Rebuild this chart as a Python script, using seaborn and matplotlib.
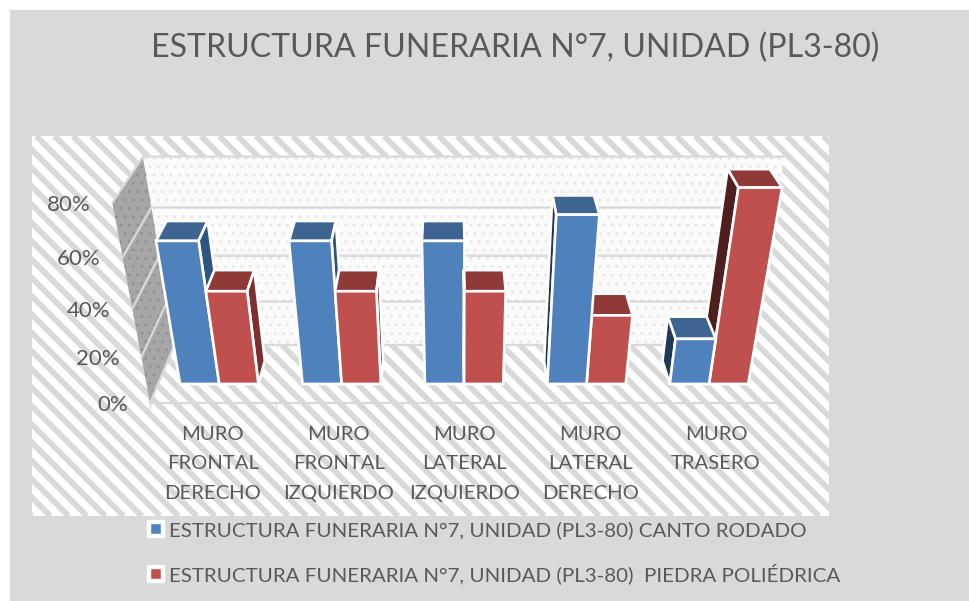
import numpy as np
import pandas as pd
import matplotlib
matplotlib.use("Agg")
import matplotlib.pyplot as plt
import matplotlib.transforms as mtransforms
from matplotlib.patches import Polygon, Rectangle
import seaborn as sns

# values
muros = ["MURO\nFRONTAL\nDERECHO", "MURO\nFRONTAL\nIZQUIERDO", "MURO\nLATERAL\nIZQUIERDO",
         "MURO\nLATERAL\nDERECHO", "MURO\nTRASERO"]
canto_rodado = [60, 60, 60, 70, 20]
piedra_poliedrica = [40, 40, 40, 30, 80]
pct_ticks = [0, 20, 40, 60, 80]
title = "ESTRUCTURA FUNERARIA N°7, UNIDAD (PL3-80)"
serie_a = "ESTRUCTURA FUNERARIA N°7, UNIDAD (PL3-80) CANTO RODADO"
serie_b = "ESTRUCTURA FUNERARIA N°7, UNIDAD (PL3-80)  PIEDRA POLIÉDRICA"

blue = "#4F81BD"
red = "#C0504D"
grey_txt = "#595959"
grid_col = "#D9D9D9"

sns.set_theme(style="white")
plt.rcParams["font.family"] = ["Lato", "DejaVu Sans"]
plt.rcParams["hatch.linewidth"] = 0.7


# 3 point perspective of the excel 3d chart: x=category, v=percent, d=depth(0 front, 1 back)
def project(x, v, d):
    x, v, d = np.asarray(x, float), np.asarray(v, float), np.asarray(d, float)
    b = -0.001354 * v
    c = 0.08855 * d
    w = 1 + b + c
    px = (150 + 125.8 * x + b * 460 + c * 450) / w
    py = (403 + b * 2050 + c * -310) / w
    return np.column_stack([np.atleast_1d(px), np.atleast_1d(py)])


class BarPlane(mtransforms.Transform):
    input_dims = 2
    output_dims = 2

    def __init__(self, d):
        super().__init__()
        self.d = d

    def transform_non_affine(self, values):
        values = np.asarray(values)
        return project(values[:, 0] + 0.5, values[:, 1], np.full(len(values), self.d))


d_front = 0.31
d_back = 0.71

fig = plt.figure(figsize=(9.69, 6.01), dpi=100, facecolor="white")
ax = fig.add_axes([0, 0, 1, 1])

df = pd.DataFrame({
    "muro": muros * 2,
    "pct": canto_rodado + piedra_poliedrica,
    "serie": [serie_a] * 5 + [serie_b] * 5,
})
sns.barplot(data=df, x="muro", y="pct", hue="serie", palette=[blue, red], width=0.64, gap=0,
            saturation=1, edgecolor="white", linewidth=1.9, ax=ax)

ax.set_xlim(0, 969)
ax.set_ylim(601, 0)
ax.set_axis_off()

# grey card + striped plot area
ax.add_patch(Rectangle((10, 10), 959, 591, fc=grid_col, ec="none", zorder=0))
panel = Rectangle((32, 136), 797, 380, fc="white", ec="none", zorder=0.1)
ax.add_patch(panel)
for off in np.arange(-380, 800, 18.3):
    line, = ax.plot([32 + off, 32 + off + 380], [136, 516], color=grid_col, lw=4.2, zorder=0.2,
                    solid_capstyle="butt")
    line.set_clip_path(panel)

# walls
ax.add_patch(Polygon(np.vstack([project(0, 0, 1), project(5, 0, 1), project(5, 80, 1), project(0, 80, 1)]),
                     fc="#FBFBFB", ec="#E4E4E4", hatch="..", lw=0, zorder=0.5))
ax.add_patch(Polygon(np.vstack([project(0, 0, 0), project(0, 0, 1), project(0, 80, 1), project(0, 80, 0)]),
                     fc="#A6A6A6", ec="#8E8E8E", hatch="..", lw=0, zorder=0.6))

for v in pct_ticks:
    ax.plot(*np.vstack([project(0, v, 0), project(0, v, 1), project(5, v, 1)]).T, color=grid_col,
            lw=1.6, zorder=0.7)
    tx, ty = project(0, v, 0)[0]
    ax.text(tx - 22, ty + 2, f"{v}%", ha="right", va="center", fontsize=16, color=grey_txt)

# floor front edge, ticks and category labels
ax.plot(*np.vstack([project(0, 0, 0), project(5, 0, 0)]).T, color=grid_col, lw=1.6, zorder=0.7)
for i in range(6):
    tx, ty = project(i, 0, 0)[0]
    ax.plot([tx, tx], [ty, ty + 5], color=grid_col, lw=1, zorder=0.7)
for i, lab in enumerate(muros):
    tx = project(i + 0.5, 0, 0)[0][0]
    ax.text(tx, 426, lab, ha="center", va="top", fontsize=14.6, color=grey_txt, linespacing=1.88)

ax.text(515, 48, title, ha="center", va="center", fontsize=23.1, color=grey_txt)

# faces of each bar, front face is the seaborn bar itself
shade_top = ["#3E6491", "#8F3A38"]
shade_right = ["#2E5480", "#7D2F2D"]
shade_left = ["#1F3A57", "#4F1F1D"]
for s, cont in enumerate(ax.containers):
    for i, bar in enumerate(cont.patches):
        x0, x1 = bar.get_x() + 0.5, bar.get_x() + bar.get_width() + 0.5
        h = bar.get_height()
        # nearest to the centre goes on top
        z = 3 + (s if i <= 2 else 1 - s)
        bar.set_transform(BarPlane(d_front) + ax.transData)
        bar.set_clip_on(False)
        bar.set_zorder(z + 0.5)
        quads = [
            ([project(x0, h, d_front), project(x1, h, d_front), project(x1, h, d_back), project(x0, h, d_back)],
             shade_top[s]),
        ]
        if project(x1, h, d_back)[0][0] > project(x1, h, d_front)[0][0]:
            quads.append(([project(x1, 0, d_front), project(x1, 0, d_back), project(x1, h, d_back),
                           project(x1, h, d_front)], shade_right[s]))
        if project(x0, h, d_back)[0][0] < project(x0, h, d_front)[0][0]:
            quads.append(([project(x0, 0, d_front), project(x0, 0, d_back), project(x0, h, d_back),
                           project(x0, h, d_front)], shade_left[s]))
        for pts, col in quads:
            ax.add_patch(Polygon(np.vstack(pts), fc=col, ec="white", lw=1.9, zorder=z, joinstyle="round"))

sns.move_legend(ax, "upper left", bbox_to_anchor=(149.3, 521), bbox_transform=ax.transData, title=None,
                frameon=False, fontsize=14.75, labelcolor=grey_txt, labelspacing=1.19, handlelength=0.66,
                handleheight=0.66, handletextpad=0.3, borderpad=0, borderaxespad=0)
for h in ax.get_legend().get_patches():
    h.set_edgecolor("white")
    h.set_linewidth(3.2)
    h.set_joinstyle("round")

fig.savefig("out.png", dpi=100)
